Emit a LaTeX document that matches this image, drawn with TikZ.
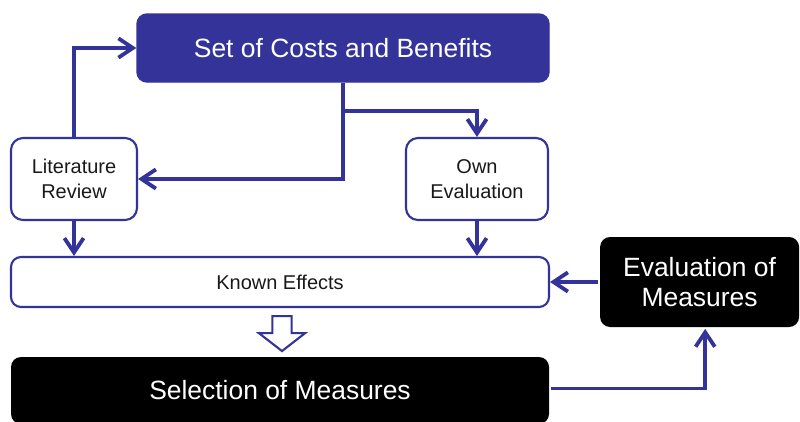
\documentclass[tikz,border=0pt]{standalone}
\usepackage{fontspec}
\setmainfont{Liberation Sans}
\usepackage{tikz}
\usetikzlibrary{arrows.meta, positioning, calc}
\definecolor{navy1}{rgb}{0.2,0.2,0.6}
\definecolor{ink1}{rgb}{0.1,0.1,0.1}

\begin{document}
\begin{tikzpicture}[->,>={Straight Barb[length=3.6mm,width=4.8mm]},
                    line width=2.7pt, draw=navy1]
  \tikzstyle{bigbox}=[rectangle, rounded corners=0.25cm, draw=navy1, line width=1pt,
                      fill=navy1, text=white, font=\fontsize{18.8}{22}\selectfont]
  \tikzstyle{smallbox}=[rectangle, rounded corners=0.3cm, draw=navy1, line width=1.5pt,
                        fill=white, text=ink1, align=center, font=\fontsize{14.2}{17.5}\selectfont]
  \tikzstyle{blackbox}=[rectangle, rounded corners=0.25cm, fill=black, text=white,
                        align=center, font=\fontsize{18.8}{21.5}\selectfont]
  \useasboundingbox (0,0) rectangle (20,10.525);

  \node[bigbox, minimum width=10.3cm, minimum height=1.7cm]     (costs) at (8.575, 9.325) {Set of Costs and Benefits};
  \node[smallbox, minimum width=3.15cm, minimum height=2.05cm]  (lit)   at (1.85, 6.05)   {Literature\\Review};
  \node[smallbox, minimum width=3.55cm, minimum height=2.05cm]  (own)   at (11.925, 6.05) {Own\\Evaluation};
  \node[smallbox, rounded corners=0.25cm, minimum width=13.45cm, minimum height=1.25cm]
                                                                (known) at (7.0, 3.475)   {Known Effects};
  \node[blackbox, minimum width=13.45cm, minimum height=1.675cm] (select) at (7.0, 0.7625) {Selection of Measures};
  \node[blackbox, minimum width=4.975cm, minimum height=2.25cm]  (eval)  at (17.49, 3.475) {Evaluation of\\Measures};

  \draw (lit.north) |- (costs.west);
  \draw (costs.south) |- (lit.east);
  \draw ($(costs.south)+(0,-0.7)$) -| (own.north);
  \draw (lit.south) -- (lit.south |- known.north);
  \draw (own.south) -- (own.south |- known.north);
  \draw (eval.west) -- (known.east);
  \draw ($(select.east)+(0,0.05)$) -| ($(eval.south)+(0.14,0)$);

  % hollow arrow down to the selection
  \draw[-, line width=1.5pt, fill=white, line join=miter]
    ($(known.south)+(0.05,-0.2)$) coordinate (ha)
    -- ++(0.24,0) -- ++(0,-0.425) -- ++(0.34,0) -- ++(-0.58,-0.45)
    -- ++(-0.58,0.45) -- ++(0.34,0) -- ++(0,0.425) -- cycle;
\end{tikzpicture}
\end{document}
